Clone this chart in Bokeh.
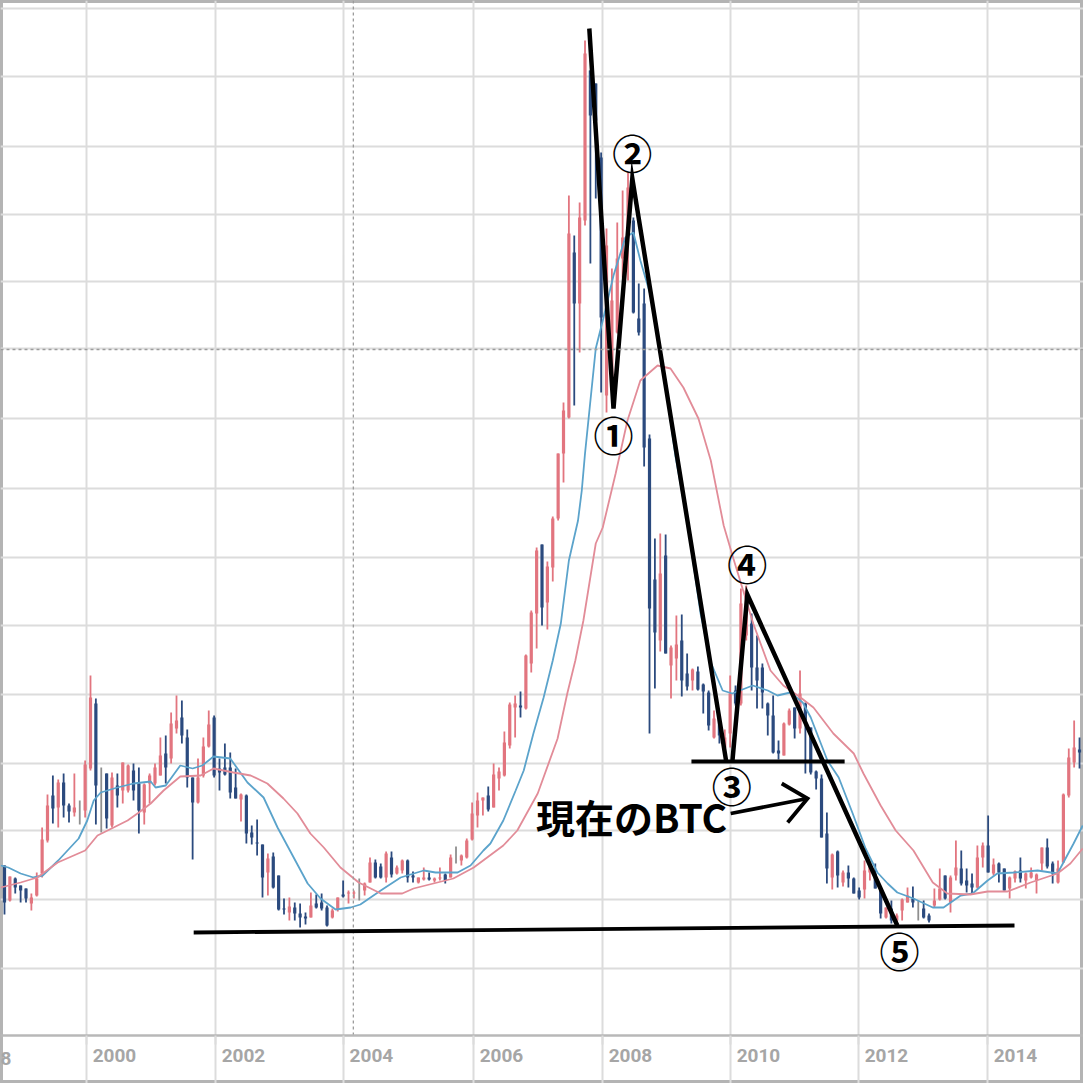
from bokeh.embed import file_html
from bokeh.resources import INLINE
from bokeh.plotting import figure
from bokeh.models import ColumnDataSource, FixedTicker, Range1d, Span
from bokeh.core.properties import value

# Monthly bars, index 0 = Oct 1998. Unit: arbitrary (the price scale is not labelled).
opens = [170,135,157,150,147,132,140,162,195,240, 228,253,230,223,230,225,267,332,244,262,
         210,250,245,245,265,252,223,252,252,260, 282,277,307,318,298,258,233,260,289,318,
         267,268,268,248,236,240,203,193,191,163, 179,160,127,123,128,122,119,118,132,133,
         128,118,126,141,142,142,143,145,153,173, 169,158,178,162,165,175,160,153,156,158,
         155,157,161,158,176,175,178,196,220,235, 240,228,257,260,290,328,330,327,372,422,
         491,433,468,517,582,618,783,732,815,965, 952,878,640,650,703,777,802,815,717,732,
         597,456,395,480,370,377,395,362,355,364, 351,343,298,317,288,302,345,332,400,412,
         368,368,332,320,285,280,311,328,307,332, 308,264,257,202,158,184,153,163,157,145,
         146,163,162,146,118,127,115,125,133,137, 135,127,120,130,136,160,133,160,167,155,
         152,148,178,190,162,172,167,147,157,165, 155,158,155,172,188,172,153,173,240,273,286,280]
closes = [133,159,148,145,137,138,157,196,230,227, 253,230,224,228,230,271,338,250,244,217,
          258,240,273,270,245,225,251,260,268,280, 268,312,315,300,258,233,258,289,311,260,
          263,261,243,237,241,202,198,192,158,177, 148,126,126,129,122,118,117,130,128,127,
          110,125,138,139,143,143,143,152,173,158, 158,182,161,168,175,158,158,158,158,156,
          157,158,155,178,176,180,195,222,235,238, 226,261,264,293,331,332,328,380,423,485,
          428,469,517,582,625,802,732,818,982,920, 915,718,790,735,777,798,848,723,703,588,
          427,403,462,382,388,391,355,349,366,346, 344,310,317,300,298,342,332,432,445,368,
          355,343,320,283,282,312,325,307,342,315, 263,257,198,167,181,160,163,157,142,138,
          165,169,147,122,128,115,120,136,140,133, 135,118,115,135,147,137,158,168,152,150,
          148,178,190,163,171,163,145,158,164,157, 162,163,161,188,169,162,167,241,278,288,283,308]
highs = [170,159,158,150,147,142,163,208,241,260, 256,262,232,262,235,275,360,337,268,262,
         263,262,273,271,272,268,252,262,272,298, 300,323,340,335,306,258,277,298,325,320,
         277,292,283,267,242,241,210,216,191,182, 183,160,137,138,133,132,123,143,141,142,
         130,127,138,155,145,145,157,153,178,176, 172,184,184,170,176,176,164,158,168,163,
         158,168,162,181,189,181,197,233,243,238, 249,272,268,304,333,340,344,381,425,488,
         491,474,519,582,633,840,800,833,995,965, 952,883,807,767,813,845,863,818,752,747,
         601,497,502,501,390,420,421,382,367,369, 352,345,325,318,306,360,350,447,450,422,
         400,372,333,340,295,313,327,328,365,333, 308,265,261,223,182,185,165,170,158,148,
         175,170,172,147,128,135,122,137,148,149, 135,135,122,147,167,160,160,195,185,167,
         162,190,193,220,177,173,167,159,165,178, 163,168,162,188,197,174,175,242,287,315,298,310]
lows = [121,134,142,133,133,125,139,158,193,212, 208,218,213,219,211,218,265,211,203,207,
        208,228,232,243,235,202,211,232,250,260, 252,272,302,292,248,176,232,258,288,258,
        245,260,237,237,214,192,191,180,138,140, 147,125,121,115,115,108,111,118,127,125,
        109,117,124,138,132,137,135,140,153,157, 157,153,158,161,162,153,153,152,155,155,
        153,155,152,158,172,170,177,195,208,220, 224,228,245,259,287,298,318,326,363,387,
        410,406,454,515,553,617,630,683,810,772, 837,643,623,640,702,758,755,722,700,569,
        302,347,384,382,337,355,339,345,345,345, 322,305,297,292,288,288,330,330,395,345,
        327,327,300,282,276,280,310,297,302,262, 261,246,198,152,146,148,149,148,142,136,
        137,155,147,117,117,112,113,115,133,128, 115,117,113,128,135,136,123,155,150,143,
        142,147,168,163,160,153,145,137,153,153, 147,157,142,165,167,152,152,173,238,268,267,280]

# Moving averages: month position, level
blue_m = [-0.7,0.7,3,5.4,7.1,10,13.8,15.4,16.6,17.9,21,24,27.2,28.1,30,32.7,35,36.8,38.9,42,45.2,48.2,50.8,53.8,56.4,58.8,61.6,64.4,66.2,
          70,73.7,78,80.2,84.3,86.7,89.1,90.4,92.8,95.1,96.6,98.4,100.3,102,103.5,105,106.7,107.4,108,
          110,111.4,113.3,115.5,117,118.3,120.2,123,124.8,127.1,129.5,131.4,133.6,135.4,139.2,142,143.8,146.2,148.5,150,153.1,155.2,157.8,
          160.2,162.4,164.3,166.1,169.1,172.7,174.7,177.9,180.1,182.9,184.7,187.7,192.2,195.9,197,198.9,200.6]
blue_v = [170,168,162,158,160,175,197,215,235,243,248,252,254,248,250,270,267,270,279,277,253,238,208,178,152,137,126,128,131,
          145,158,165,163,163,170,185,192,215,245,265,302,338,375,412,475,515,545,582,
          687,717,760,798,803,775,740,650,580,512,422,373,345,342,350,345,340,343,333,318,275,258,222,
          187,163,152,143,137,128,128,140,142,155,162,163,165,162,173,192,210]
pink_m = [-0.7,3,6.1,9.9,15,17.3,20.3,22.9,25,27.2,29.6,32.7,36.5,38.9,42.6,45.8,48.9,51.9,54.5,56.9,59.4,62.5,65.9,
          70,74,76.1,79.8,83.5,87.3,92.8,95.4,99.2,102.9,104.7,106.2,107.7,110,111.3,113.7,115.9,118.3,121.5,123.9,126.3,129.1,131.4,133.8,135.6,139.3,142.5,144.9,148.1,150.5,154.2,158,
          159.8,163,165.8,169.1,172.7,175.4,179.7,182.9,186.6,190.9,195.9,198.3,200.6]
pink_v = [148,153,158,173,185,200,208,215,223,232,245,259,260,267,263,260,252,237,222,202,188,168,153,
          142,142,147,152,157,168,190,205,242,297,342,375,415,492,508,562,615,655,670,667,648,617,575,510,477,412,365,350,338,328,302,282,
          262,230,205,185,153,142,141,144,144,153,162,172,187]

# Year gridlines in month positions, and the horizontal gridlines in chart units
year_labels = ["2000","2002","2004","2006","2008","2010","2012","2014"]
year_pos = [15.26,39.26,63.06,87.26,111.26,135.07,158.88,182.88]
label_shift = 5.2
edge_text, edge_m, edge_v = ["8"], [-0.75], [-23]   # what shows of the cut-off "1998"
level_pos = [67,136,205,272,341,410,478,547,617,687,754,821,889,959,1027]
cross_m, cross_v = 64.9, 686
cross_span = [0, 1035]

# Hand-drawn overlay
zig1_m, zig1_v = [108.8,113.3,116.8,134.3], [1007,627,857,273]
zig2_m, zig2_v = [135.4,138.2,166.1], [273,441,110]
neck_m, neck_v = [127.8,156.3], [274,274]
base_m, base_v = [35.2,187.9], [103,110]
arrow_m, arrow_v = [135.1,149.4], [222,237]
head_m, head_v = [144.6,149.4,145.7], [252,237,213]
note_text, note_m, note_v = ["現在のBTC"], [98.9], [220]
wave_text = ["①","②","③","④","⑤"]
wave_m = [113.3,116.8,135.3,138.2,166.5]
wave_v = [602,884,251,473,86]

RED, NAVY, GREY = "#e2757f", "#2b4a7e", "#8f8f8f"
GRID = "#dcdcdc"
LABEL = "#a6a6a6"

months = list(range(len(opens)))
colors = [GREY if o == c else (RED if c > o else NAVY) for o, c in zip(opens, closes)]
src = ColumnDataSource(dict(m=months, o=opens, c=closes, h=highs, l=lows, col=colors))

p = figure(width=1083, height=1083, output_backend="svg", toolbar_location=None,
           x_range=Range1d(-0.744, 200.74), y_range=Range1d(-48, 1035),
           y_axis_location=None, min_border_left=0, min_border_right=0, min_border_top=0,
           min_border_bottom=0, background_fill_color="white", border_fill_color="white")
p.outline_line_color = "#b4b4b4"
p.outline_line_width = 5

ax = p.xaxis[0]
ax.fixed_location = 0
ax.ticker = FixedTicker(ticks=[y + label_shift for y in year_pos], minor_ticks=year_pos)
ax.major_label_overrides = {y + label_shift: t for y, t in zip(year_pos, year_labels)}
ax.major_tick_in = 0
ax.major_tick_out = 0
ax.minor_tick_in = 0
ax.minor_tick_out = 9
ax.minor_tick_line_color = GRID
ax.minor_tick_line_width = 2
ax.axis_line_color = "#b8b8b8"
ax.axis_line_width = 2.5
ax.major_label_text_font = "Roboto"
ax.major_label_text_font_size = "19px"
ax.major_label_text_font_style = "bold"
ax.major_label_text_color = LABEL
ax.major_label_standoff = 4

p.xgrid.ticker = FixedTicker(ticks=year_pos)
p.xgrid.bounds = (-9, 1035)
p.xgrid.grid_line_color = GRID
p.xgrid.grid_line_width = 2
p.ygrid.ticker = FixedTicker(ticks=level_pos)
p.ygrid.grid_line_color = GRID
p.ygrid.grid_line_width = 2

p.text(edge_m, edge_v, text=edge_text, text_font=value("Roboto"), text_font_size="19px", text_font_style="bold",
       text_color=LABEL, text_align="left", text_baseline="middle")

p.segment("m", "l", "m", "h", source=src, color="col", line_width=1.8, line_cap="butt")
p.segment("m", "o", "m", "c", source=src, color="col", line_width=3.2, line_cap="butt")
p.line(blue_m, blue_v, color="#5ba3cb", line_width=1.8)
p.line(pink_m, pink_v, color="#e28c98", line_width=1.8)

p.line([cross_m, cross_m], cross_span, line_color="#9c9c9c", line_width=1.3, line_dash="3 3")
p.add_layout(Span(location=cross_v, dimension="width", line_color="#9c9c9c", line_width=1.5, line_dash="3 3"))

for xs, ys, w in [(zig1_m, zig1_v, 4.5), (zig2_m, zig2_v, 4.5), (neck_m, neck_v, 3.8), (base_m, base_v, 3.8),
                  (arrow_m, arrow_v, 3.8), (head_m, head_v, 3.8)]:
    p.line(xs, ys, color="black", line_width=w, line_join="miter")

p.text(note_m, note_v, text=note_text, text_font=value("Noto Sans CJK JP"), text_font_size="39px",
       text_font_style="bold", text_align="left", text_baseline="middle", text_color="black")
p.text(wave_m, wave_v, text=wave_text, text_font=value("Noto Sans CJK JP"), text_font_size="40px",
       text_font_style="bold", text_align="center", text_baseline="middle", text_color="black")

open("out.html", "w").write(file_html(p, INLINE))
